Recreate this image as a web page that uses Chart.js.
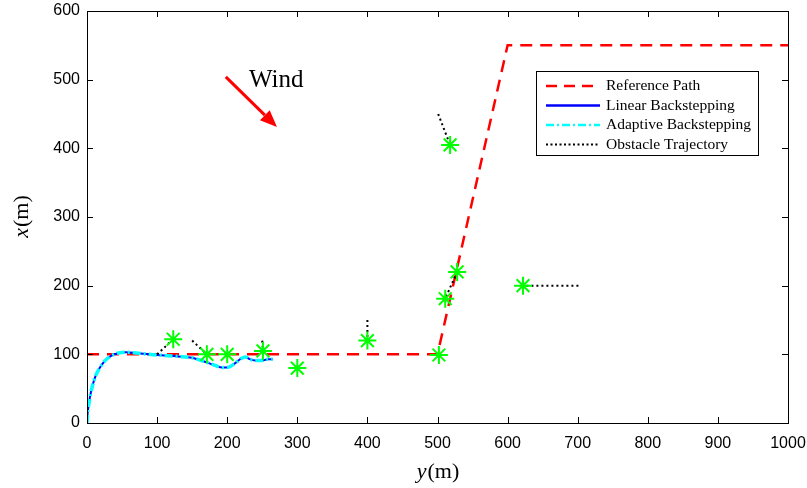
<!DOCTYPE html>
<html>
<head>
<meta charset="utf-8">
<script src="https://cdn.jsdelivr.net/npm/chart.js@4"></script>
<style>
  html, body { margin: 0; padding: 0; background: #fff; }
  #wrap { width: 807px; height: 488px; }
</style>
</head>
<body>
<div id="wrap"><canvas id="chart" width="807" height="488"></canvas></div>
<script>
    "use strict";

    // Reference path
    var refX = [0, 500, 600, 1000];
    var refY = [100, 100, 550, 550];

    // Vehicle track (both controllers almost on top of each other)
    var linX = [0, 1, 3, 5, 8, 12, 18, 26, 35, 45, 55, 70, 100, 130, 150, 166, 180, 192, 200, 210, 220, 226, 232, 240, 250, 258, 265];
    var linY = [0, 15, 30, 42, 55, 68, 80, 91, 98, 102, 103, 102, 99, 97, 95, 90, 85, 81, 81, 86, 94, 96, 93, 91, 91, 93, 93];
    var adpX = [0, 1, 3, 5, 8, 12, 18, 26, 35, 45, 55, 70, 100, 130, 150, 166, 180, 192, 200, 210, 220, 226, 232, 240, 250, 258, 265];
    var adpY = [0, 15, 30, 42, 55, 68, 80, 91, 98, 102, 103, 102, 99, 97, 95, 90, 85, 81, 81, 86, 94, 96, 93, 91, 91, 93, 93];

    // Obstacles: start and final positions
    var obsStartX = [100, 150, 200, 250, 300, 400, 500, 528, 528, 501, 701];
    var obsStartY = [100, 120, 100, 120, 80, 150, 100, 220, 220, 450, 200];
    var obsEndX = [123, 171, 200, 251, 300, 400, 502, 511, 528, 518, 622];
    var obsEndY = [122, 100, 100, 105, 80, 120, 99, 181, 220, 405, 200];

    // Axis ticks
    var xTicks = [0, 100, 200, 300, 400, 500, 600, 700, 800, 900, 1000];
    var yTicks = [0, 100, 200, 300, 400, 500, 600];

    // Wind arrow (data units)
    var windFrom = [198, 504];
    var windTo = [271, 431];
    var windLabelAt = [231, 489];

    var legendItems = [
        { text: "Reference Path", color: "#ff0000", width: 2.5, dash: [11, 7] },
        { text: "Linear Backstepping", color: "#0000ff", width: 2.5, dash: [] },
        { text: "Adaptive Backstepping", color: "#00ffff", width: 2.5, dash: [8, 3, 2, 3] },
        { text: "Obstacle Trajectory", color: "#000000", width: 2, dash: [2, 2.5] }
    ];

    function pts(xs, ys) {
        return xs.map(function (x, i) { return { x: x, y: ys[i] }; });
    }

    var datasets = [{
        label: "Reference Path",
        data: pts(refX, refY),
        borderColor: "#ff0000",
        borderWidth: 2.5,
        borderDash: [12, 8],
        pointRadius: 0,
        order: 5
    }, {
        label: "Linear Backstepping",
        data: pts(linX, linY),
        borderColor: "#0000ff",
        borderWidth: 2,
        cubicInterpolationMode: "monotone",
        pointRadius: 0,
        order: 4
    }, {
        label: "Adaptive Backstepping",
        data: pts(adpX, adpY),
        borderColor: "#00ffff",
        borderWidth: 3.5,
        borderDash: [8, 3, 2, 3],
        cubicInterpolationMode: "monotone",
        pointRadius: 0,
        order: 3
    }];

    // Obstacle trajectories
    for (var i = 0; i < obsStartX.length; i++) {
        if (obsStartX[i] === obsEndX[i] && obsStartY[i] === obsEndY[i]) continue;
        datasets.push({
            label: "Obstacle Trajectory",
            data: [{ x: obsStartX[i], y: obsStartY[i] }, { x: obsEndX[i], y: obsEndY[i] }],
            borderColor: "#000000",
            borderWidth: 2,
            borderDash: [2, 3],
            pointRadius: 0,
            order: 2
        });
    }

    // Obstacle final positions
    datasets.push({
        label: "Obstacles",
        data: pts(obsEndX, obsEndY),
        showLine: false,
        pointStyle: "star",
        pointRadius: 9,
        pointBorderColor: "#00ff00",
        pointBackgroundColor: "#00ff00",
        pointBorderWidth: 2,
        order: 1
    });

    // Box, inside ticks, axis titles, wind arrow, legend
    var decorations = {
        id: "decorations",
        afterDraw: function (chart) {
            var c = chart.ctx, a = chart.chartArea;
            var sx = chart.scales.x, sy = chart.scales.y;
            c.save();
            c.strokeStyle = "#000";
            c.lineWidth = 1;
            c.setLineDash([]);
            c.strokeRect(a.left + 0.5, a.top + 0.5, a.right - a.left, a.bottom - a.top);
            var tl = 6;
            c.beginPath();
            xTicks.forEach(function (v) {
                var px = Math.round(sx.getPixelForValue(v)) + 0.5;
                c.moveTo(px, a.bottom); c.lineTo(px, a.bottom - tl);
                c.moveTo(px, a.top); c.lineTo(px, a.top + tl);
            });
            yTicks.forEach(function (v) {
                var py = Math.round(sy.getPixelForValue(v)) + 0.5;
                c.moveTo(a.left, py); c.lineTo(a.left + tl, py);
                c.moveTo(a.right, py); c.lineTo(a.right - tl, py);
            });
            c.stroke();

            // axis titles
            c.fillStyle = "#000";
            c.textBaseline = "alphabetic";
            function title(v, cx, cy, rot) {
                c.save();
                c.translate(cx, cy);
                c.rotate(rot);
                c.font = "italic 22px 'Liberation Serif'";
                var w1 = c.measureText(v).width;
                c.font = "22px 'Liberation Serif'";
                var w2 = c.measureText("(m)").width;
                var x0 = -(w1 + w2) / 2;
                c.font = "italic 22px 'Liberation Serif'";
                c.fillText(v, x0, 7);
                c.font = "22px 'Liberation Serif'";
                c.fillText("(m)", x0 + w1 + 1, 7);
                c.restore();
            }
            title("y", (a.left + a.right) / 2, 471, 0);
            title("x", 21, (a.top + a.bottom) / 2, -Math.PI / 2);

            // wind arrow
            var x1 = sx.getPixelForValue(windFrom[0]), y1 = sy.getPixelForValue(windFrom[1]);
            var x2 = sx.getPixelForValue(windTo[0]), y2 = sy.getPixelForValue(windTo[1]);
            var ang = Math.atan2(y2 - y1, x2 - x1);
            var hl = 17, hw = 7;
            c.strokeStyle = "#ff0000";
            c.fillStyle = "#ff0000";
            c.lineWidth = 3;
            c.beginPath();
            c.moveTo(x1, y1);
            c.lineTo(x2 - hl * Math.cos(ang), y2 - hl * Math.sin(ang));
            c.stroke();
            c.beginPath();
            c.moveTo(x2, y2);
            c.lineTo(x2 - hl * Math.cos(ang) + hw * Math.sin(ang), y2 - hl * Math.sin(ang) - hw * Math.cos(ang));
            c.lineTo(x2 - hl * Math.cos(ang) - hw * Math.sin(ang), y2 - hl * Math.sin(ang) + hw * Math.cos(ang));
            c.closePath();
            c.fill();
            c.fillStyle = "#000";
            c.font = "25px 'Liberation Serif'";
            c.fillText("Wind", sx.getPixelForValue(windLabelAt[0]), sy.getPixelForValue(windLabelAt[1]));

            // legend
            var lx = 536, ly = 71, lw = 222, lh = 84;
            c.fillStyle = "#fff";
            c.fillRect(lx, ly, lw, lh);
            c.strokeStyle = "#000";
            c.lineWidth = 1;
            c.strokeRect(lx + 0.5, ly + 0.5, lw, lh);
            c.font = "15.5px 'Liberation Serif'";
            c.textBaseline = "middle";
            legendItems.forEach(function (it, k) {
                var yy = ly + 15 + k * 19.5;
                c.strokeStyle = it.color;
                c.lineWidth = it.width;
                c.setLineDash(it.dash);
                c.beginPath();
                c.moveTo(546, yy);
                c.lineTo(600, yy);
                c.stroke();
                c.setLineDash([]);
                c.fillStyle = "#000";
                c.fillText(it.text, 606, yy);
            });
            c.restore();
        }
    };

    var tickFont = { family: "'Liberation Sans', Arial, sans-serif", size: 16 };

    var ctx = document.getElementById("chart").getContext("2d");
    var myChart = new Chart(ctx, {
        type: "line",
        data: { datasets: datasets },
        options: {
            responsive: false,
            animation: false,
            layout: { padding: { left: 0, top: 11, right: 19, bottom: 0 } },
            plugins: {
                legend: { display: false },
                tooltip: { enabled: false }
            },
            scales: {
                x: {
                    type: "linear",
                    min: 0,
                    max: 1000,
                    grid: { display: false, tickLength: 0 },
                    border: { display: false },
                    afterBuildTicks: function (s) { s.ticks = xTicks.map(function (v) { return { value: v }; }); },
                    afterFit: function (s) { s.height = 65; s.paddingLeft = 0; s.paddingRight = 0; },
                    ticks: { color: "#000", font: tickFont, padding: 11, maxRotation: 0,
                        callback: function (v) { return String(v); } }
                },
                y: {
                    type: "linear",
                    min: 0,
                    max: 600,
                    grid: { display: false, tickLength: 0 },
                    border: { display: false },
                    afterBuildTicks: function (s) { s.ticks = yTicks.map(function (v) { return { value: v }; }); },
                    afterFit: function (s) { s.width = 87; s.paddingTop = 0; s.paddingBottom = 0; },
                    ticks: { color: "#000", font: tickFont, padding: 7,
                        callback: function (v) { return String(v); } }
                }
            }
        },
        plugins: [decorations]
    });
</script>
</body>
</html>
